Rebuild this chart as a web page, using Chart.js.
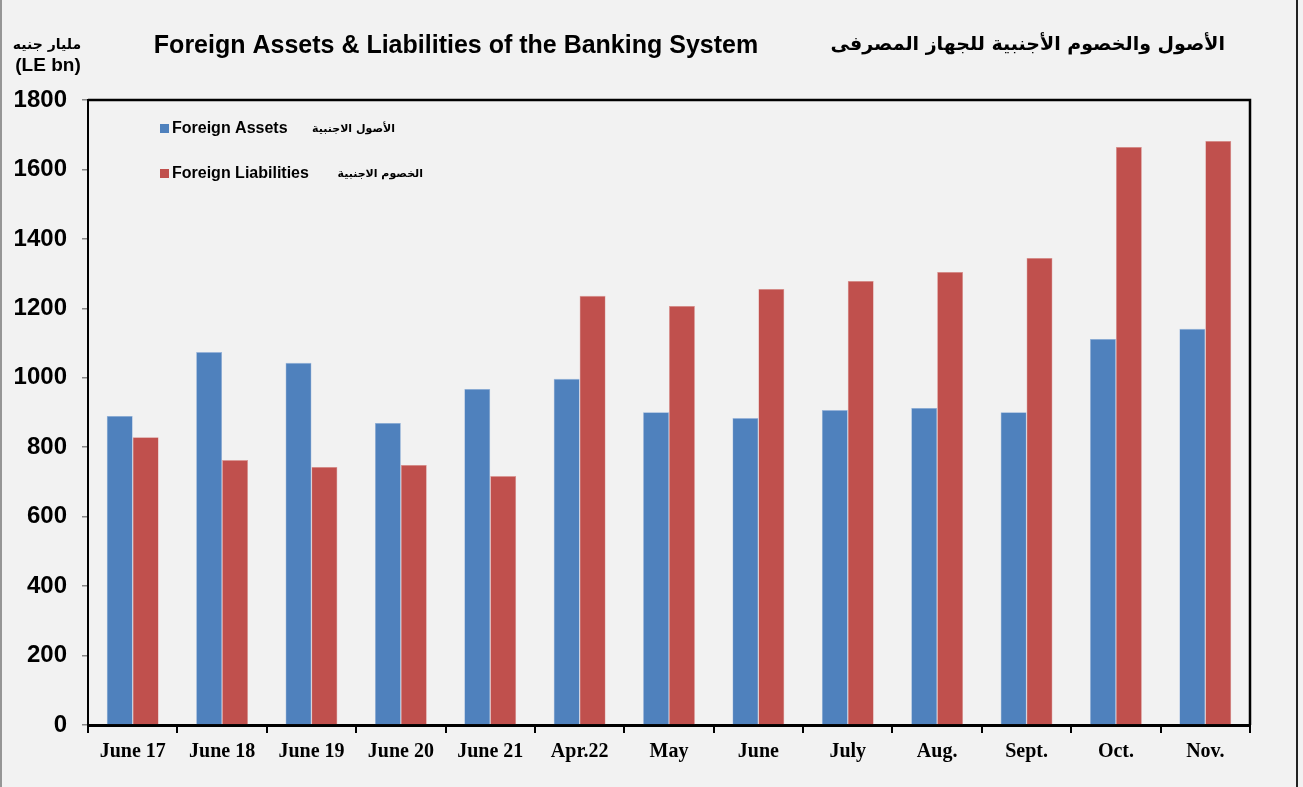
<!DOCTYPE html>
<html>
<head>
<meta charset="utf-8">
<script src="https://cdn.jsdelivr.net/npm/chart.js@4.4.0/dist/chart.umd.min.js"></script>
<style>
  html, body { margin: 0; padding: 0; background: #f2f2f2; }
  #wrap { width: 1303px; height: 787px; position: relative; }
</style>
</head>
<body>
<div id="wrap"><canvas id="c" width="1303" height="787"></canvas></div>
<script>
const categories = ["June 17", "June 18", "June 19", "June 20", "June 21", "Apr.22", "May", "June", "July", "Aug.", "Sept.", "Oct.", "Nov."];
const foreignAssets = [890, 1074, 1043, 870, 968, 997, 901, 884, 907, 913, 901, 1112, 1141];
const foreignLiabilities = [829, 763, 743, 749, 717, 1236, 1207, 1256, 1279, 1305, 1345, 1665, 1682];
const yTicks = [0, 200, 400, 600, 800, 1000, 1200, 1400, 1600, 1800];
const seriesNames = ["Foreign Assets", "Foreign Liabilities"];
const seriesNamesAr = ["الأصول الاجنبية", "الخصوم الاجنبية"];
const titleEn = "Foreign Assets & Liabilities of the Banking System";
const titleAr = "الأصول والخصوم الأجنبية للجهاز المصرفى";
const unitAr = "مليار جنيه";
const unitEn = "(LE bn)";

const BLUE = "#4f81bd";
const RED = "#c0504d";

const decor = {
  id: "decor",
  beforeDraw(chart) {
    const ctx = chart.ctx;
    ctx.save();
    ctx.fillStyle = "#f2f2f2";
    ctx.fillRect(0, 0, chart.width, chart.height);
    ctx.restore();
  },
  afterDraw(chart) {
    const ctx = chart.ctx;
    const a = chart.chartArea;
    ctx.save();
    // outer frame lines
    ctx.strokeStyle = "#777";
    ctx.lineWidth = 1.5;
    ctx.beginPath();
    ctx.moveTo(1, 0); ctx.lineTo(1, 787);
    ctx.stroke();
    ctx.strokeStyle = "#222";
    ctx.lineWidth = 2;
    ctx.beginPath();
    ctx.moveTo(1297, 0); ctx.lineTo(1297, 787);
    ctx.stroke();
    // plot box top & right
    ctx.strokeStyle = "#000";
    ctx.lineWidth = 2.5;
    ctx.beginPath();
    ctx.moveTo(a.left, a.top); ctx.lineTo(a.right, a.top); ctx.lineTo(a.right, a.bottom);
    ctx.stroke();
    // titles
    ctx.fillStyle = "#000";
    ctx.textBaseline = "middle";
    ctx.font = "bold 25px 'Liberation Sans', Arial, sans-serif";
    ctx.textAlign = "center";
    ctx.fillText(titleEn, 456, 46);
    ctx.font = "bold 19px 'DejaVu Sans', sans-serif";
    ctx.textAlign = "right";
    ctx.direction = "rtl";
    ctx.fillText(titleAr, 1225, 45);
    ctx.direction = "ltr";
    // unit label
    ctx.textAlign = "center";
    ctx.font = "bold 14px 'DejaVu Sans', sans-serif";
    ctx.fillText(unitAr, 47, 45);
    ctx.font = "bold 19px 'Liberation Sans', Arial, sans-serif";
    ctx.fillText(unitEn, 48, 66);
    // legend
    const colors = [BLUE, RED];
    const ys = [128, 173];
    for (let i = 0; i < 2; i++) {
      ctx.fillStyle = colors[i];
      ctx.fillRect(160, ys[i] - 4, 9, 9);
      ctx.fillStyle = "#000";
      ctx.textAlign = "left";
      ctx.font = "bold 16px 'Liberation Sans', Arial, sans-serif";
      ctx.fillText(seriesNames[i], 172, ys[i] + 1);
      ctx.font = "bold 11px 'DejaVu Sans', sans-serif";
      ctx.textAlign = "right";
      ctx.direction = "rtl";
      ctx.fillText(seriesNamesAr[i], i === 0 ? 395 : 423, ys[i] + 1);
      ctx.direction = "ltr";
    }
    ctx.restore();
  }
};

new Chart(document.getElementById("c"), {
  type: "bar",
  data: {
    labels: categories,
    datasets: [
      { label: seriesNames[0], data: foreignAssets, backgroundColor: BLUE, borderColor: "#9bb7dd", borderWidth: 0.6, categoryPercentage: 0.58, barPercentage: 1.0 },
      { label: seriesNames[1], data: foreignLiabilities, backgroundColor: RED, borderColor: "#dd9a98", borderWidth: 0.6, categoryPercentage: 0.58, barPercentage: 1.0 }
    ]
  },
  options: {
    responsive: false,
    animation: false,
    devicePixelRatio: 1,
    layout: { padding: { left: 0, top: 100, right: 53, bottom: 0 } },
    plugins: { legend: { display: false }, tooltip: { enabled: false }, title: { display: false } },
    scales: {
      x: {
        offset: true,
        grid: { offset: true, drawOnChartArea: false, drawTicks: true, tickLength: 8, color: "#000", lineWidth: 2 },
        border: { color: "#000", width: 3 },
        ticks: { color: "#000", font: { family: "'Liberation Serif', 'Times New Roman', serif", weight: "bold", size: 20 }, padding: 7, maxRotation: 0, autoSkip: false },
        afterFit(s) { s.height = 62; }
      },
      y: {
        min: 0, max: 1800,
        afterBuildTicks(s) { s.ticks = yTicks.map(v => ({ value: v })); },
        grid: { drawOnChartArea: false, drawTicks: true, tickLength: 6, color: "#888", lineWidth: 1.5 },
        border: { color: "#000", width: 2 },
        ticks: { color: "#000", font: { family: "'Liberation Sans', Arial, sans-serif", weight: "bold", size: 24 }, padding: 15, callback: v => String(v) },
        afterFit(s) { s.width = 88; }
      }
    }
  },
  plugins: [decor]
});
</script>
</body>
</html>
